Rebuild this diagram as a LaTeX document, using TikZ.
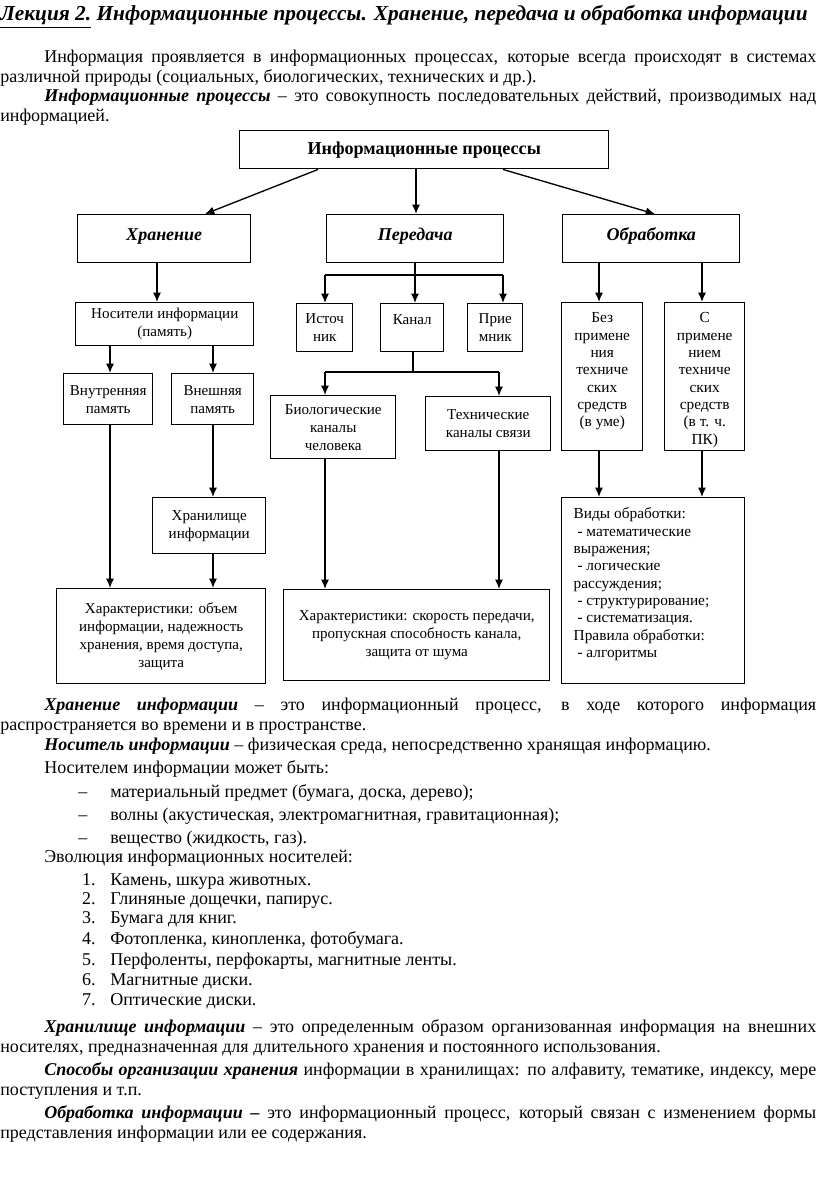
\documentclass[tikz,border=0pt]{standalone}
\usepackage{fontspec}
\setmainfont{Liberation Serif}
\usetikzlibrary{arrows.meta,calc}
\newdimen\px \px=0.75pt
\newcommand\bodyfont{\fontsize{13.5}{15}\selectfont\hyphenpenalty=10000\exhyphenpenalty=10000}
\newcommand\boxfont{\fontsize{11.3}{13.5}\selectfont}
\newcommand\tightfont{\fontsize{11.5}{13}\selectfont}
\begin{document}
\begin{tikzpicture}[x=0.75pt,y=-0.75pt,
 box/.style={draw,line width=1.1pt,inner sep=0pt,align=center,font=\boxfont,anchor=north west},
 arr/.style={line width=1pt,-{Latex[length=7pt,width=6pt]}},
 ln/.style={line width=1pt},
 para/.style={anchor=base west,inner sep=0pt,text width=612pt,align=justify,font=\bodyfont},
 tl/.style={anchor=base west,inner sep=0pt,font=\bodyfont},
 num/.style={anchor=base east,inner sep=0pt,font=\bodyfont},
 head/.style={font=\fontsize{13.5}{16}\selectfont\bfseries\itshape,text height=10pt,text depth=7.5pt}]
\useasboundingbox[fill=white] (0,0) rectangle (816,1184);

% ---------- top text ----------
\node[tl,font=\fontsize{16}{18}\selectfont\bfseries\itshape] (title) at (0,21)
 {\underline{Лекция 2.} Информационные процессы. Хранение, передача и обработка информации};
\node[para] (p1) at (0,63) {\hspace*{44\px}Информация проявляется в информационных процессах, которые всегда происходят в системах\linebreak
 различной природы (социальных, биологических, технических и~др.).};
\node[para] (p2) at (0,102) {\hspace*{44\px}\textbf{\textit{Информационные процессы}} – это совокупность последовательных действий, производимых над\linebreak
 информацией.};

% ---------- diagram boxes ----------
\node[box,font=\fontsize{13.6}{16}\selectfont\bfseries,minimum width=369\px,minimum height=38\px] (ip) at (239,130) {Информационные процессы};
\node[box,head,minimum width=173\px,minimum height=48\px] (khr) at (77,214) {Хранение};
\node[box,head,minimum width=177\px,minimum height=48\px] (per) at (326,214) {Передача};
\node[box,head,minimum width=177\px,minimum height=48\px] (obr) at (562,214) {Обработка};

\node[box,minimum width=178\px,minimum height=43\px] (nos) at (75,302) {Носители информации\\(память)};
\node[box,minimum width=89\px,minimum height=51\px] (vnu) at (63,373) {Внутренняя\\память};
\node[box,minimum width=82\px,minimum height=51\px] (vne) at (171,373) {Внешняя\\память};
\node[box,minimum width=113\px,minimum height=56\px] (hrn) at (152,497) {Хранилище\\информации};
\node[box,minimum width=209\px,minimum height=95\px] (chl) at (56,588)
 {Характеристики: объем\\информации, надежность\\хранения, время доступа,\\защита};

\node[box,minimum width=56\px,minimum height=48\px] (ist) at (296,303) {Источ\\ник};
\node[box] (kan) at (380,303) {\parbox[c][48\px][t]{63\px}{\centering\vspace*{11\px}Канал}};
\node[box,minimum width=55\px,minimum height=48\px] (pri) at (467,303) {Прие\\мник};
\node[box,minimum width=125\px,minimum height=63\px] (bio) at (270,395) {Биологические\\каналы\\человека};
\node[box,minimum width=125\px,minimum height=54\px] (tec) at (425,396) {Технические\\каналы связи};
\node[box,minimum width=266\px,minimum height=91\px] (chm) at (283,589)
 {Характеристики: скорость передачи,\\пропускная способность канала,\\защита от шума};

\node[box,font=\tightfont] (bez) at (561,302) {\parbox[c][148\px][t]{81\px}{\centering\vspace*{10\px}Без\\примене\\ния\\техниче\\ских\\средств\\(в уме)}};
\node[box,font=\tightfont] (s) at (664,302) {\parbox[c][148\px][t]{80\px}{\centering\vspace*{10\px}С\\примене\\нием\\техниче\\ских\\средств\\(в т. ч.\\ПК)}};
\node[box,font=\tightfont] (vid) at (561,497) {\parbox[c][186\px][t]{183\px}{\raggedright\leftskip=12\px\vspace*{10\px}Виды обработки:\\
 \hspace*{0.25em}- математические\\выражения;\\
 \hspace*{0.25em}- логические\\рассуждения;\\
 \hspace*{0.25em}- структурирование;\\
 \hspace*{0.25em}- систематизация.\\
 Правила обработки:\\
 \hspace*{0.25em}- алгоритмы}};

% ---------- connector helper coordinates ----------
\coordinate (dL1) at (318,0); \coordinate (dL2) at (205,0);
\coordinate (dR1) at (503,0); \coordinate (dR2) at (655,0);
\coordinate (xP) at (416,0);
\coordinate (xA) at (157,0);
\coordinate (xB) at (110,0);
\coordinate (xC) at (213,0);
\coordinate (xD) at (325,0);
\coordinate (xF) at (503,0);
\coordinate (xG) at (499,0);
\coordinate (xH) at (599,0);
\coordinate (xI) at (702,0);
\coordinate (jP) at (415,275);
\coordinate (jK) at (413,372);

% ---------- connectors ----------
\draw[arr] (ip.south -| dL1) -- (khr.north -| dL2);
\draw[arr] (ip.south -| xP) -- (per.north -| xP);
\draw[arr] (ip.south -| dR1) -- (obr.north -| dR2);

\draw[arr] (khr.south -| xA) -- (nos.north -| xA);
\draw[arr] (nos.south -| xB) -- (vnu.north -| xB);
\draw[arr] (nos.south -| xC) -- (vne.north -| xC);
\draw[arr] (vnu.south -| xB) -- (chl.north -| xB);
\draw[arr] (vne.south -| xC) -- (hrn.north -| xC);
\draw[arr] (hrn.south -| xC) -- (chl.north -| xC);

\draw[ln] (per.south -| jP) -- (jP);
\draw[ln] (jP -| xD) -- (jP -| xF);
\draw[arr] (jP -| xD) -- (ist.north -| xD);
\draw[arr] (jP) -- (kan.north -| jP);
\draw[arr] (jP -| xF) -- (pri.north -| xF);

\draw[ln] (kan.south -| jK) -- (jK);
\draw[ln] (jK -| xD) -- (jK -| xG);
\draw[arr] (jK -| xD) -- (bio.north -| xD);
\draw[arr] (jK -| xG) -- (tec.north -| xG);
\draw[arr] (bio.south -| xD) -- (chm.north -| xD);
\draw[arr] (tec.south -| xG) -- (chm.north -| xG);

\draw[arr] (obr.south -| xH) -- (bez.north -| xH);
\draw[arr] (obr.south -| xI) -- (s.north -| xI);
\draw[arr] (bez.south -| xH) -- (vid.north -| xH);
\draw[arr] (s.south -| xI) -- (vid.north -| xI);

% ---------- bottom text ----------
\node[para] (p3) at (0,710) {\hspace*{44\px}\textbf{\textit{Хранение информации}} – это информационный процесс, в ходе которого информация\linebreak
 распространяется во времени и в пространстве.};
\node[tl] (p4) at (44,750) {\textbf{\textit{Носитель информации}} – физическая среда, непосредственно хранящая информацию.};
\node[tl] (p5) at (44,773) {Носителем информации может быть:};
\node[tl] (b1d) at (78,797) {–}; \node[tl] (b1) at (110,797) {материальный предмет (бумага, доска, дерево);};
\node[tl] (b2d) at (78,820) {–}; \node[tl] (b2) at (110,820) {волны (акустическая, электромагнитная, гравитационная);};
\node[tl] (b3d) at (78,843) {–}; \node[tl] (b3) at (110,843) {вещество (жидкость, газ).};
\node[tl] (p6) at (44,862) {Эволюция информационных носителей:};
\node[num] (n1) at (96,885) {1.}; \node[tl] (i1) at (110,885) {Камень, шкура животных.};
\node[num] (n2) at (96,904) {2.}; \node[tl] (i2) at (110,904) {Глиняные дощечки, папирус.};
\node[num] (n3) at (96,923) {3.}; \node[tl] (i3) at (110,923) {Бумага для книг.};
\node[num] (n4) at (96,944) {4.}; \node[tl] (i4) at (110,944) {Фотопленка, кинопленка, фотобумага.};
\node[num] (n5) at (96,965) {5.}; \node[tl] (i5) at (110,965) {Перфоленты, перфокарты, магнитные ленты.};
\node[num] (n6) at (96,985) {6.}; \node[tl] (i6) at (110,985) {Магнитные диски.};
\node[num] (n7) at (96,1005) {7.}; \node[tl] (i7) at (110,1005) {Оптические диски.};
\node[para] (p7) at (0,1032) {\hspace*{44\px}\textbf{\textit{Хранилище информации}} – это определенным образом организованная информация на внешних\linebreak
 носителях, предназначенная для длительного хранения и постоянного использования.};
\node[para] (p8) at (0,1075) {\hspace*{44\px}\textbf{\textit{Способы организации хранения}} информации в хранилищах: по алфавиту, тематике, индексу, мере\linebreak
 поступления и т.п.};
\node[para] (p9) at (0,1118) {\hspace*{44\px}\textbf{\textit{Обработка информации –}} это информационный процесс, который связан с изменением формы\linebreak
 представления информации или ее содержания.};
\end{tikzpicture}
\end{document}
